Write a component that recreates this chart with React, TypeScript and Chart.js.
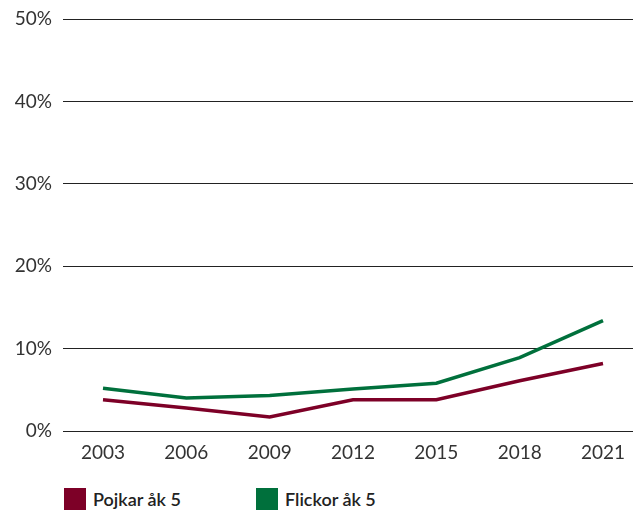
import React, { useEffect, useRef } from "react";
import { Chart, registerables } from "chart.js";

Chart.register(...registerables);

const years = [2003, 2006, 2009, 2012, 2015, 2018, 2021];
const pojkar = [3.8, 2.8, 1.7, 3.8, 3.8, 6.1, 8.2];
const flickor = [5.2, 4.0, 4.3, 5.1, 5.8, 8.9, 13.4];
const yTicks = [0, 10, 20, 30, 40, 50];
const seriesNames = ["Pojkar åk 5", "Flickor åk 5"];
const seriesColors = ["#7d0027", "#00703c"];

export default function App() {
  const ref = useRef<HTMLCanvasElement>(null);
  useEffect(() => {
    document.body.style.margin = "0";
    const ctx = ref.current!;
    const chart = new Chart(ctx, {
      type: "line",
      data: {
        datasets: [
          {
            label: seriesNames[0],
            data: years.map((y, i) => ({ x: y, y: pojkar[i] })),
            borderColor: seriesColors[0],
            backgroundColor: seriesColors[0],
            borderWidth: 3.5,
            pointRadius: 0,
            tension: 0,
          },
          {
            label: seriesNames[1],
            data: years.map((y, i) => ({ x: y, y: flickor[i] })),
            borderColor: seriesColors[1],
            backgroundColor: seriesColors[1],
            borderWidth: 3.5,
            pointRadius: 0,
            tension: 0,
          },
        ],
      },
      options: {
        animation: false,
        responsive: false,
        maintainAspectRatio: false,
        layout: { padding: { top: 19, right: 2, bottom: 19, left: 0 } },
        plugins: { legend: { display: false }, tooltip: { enabled: false } },
        scales: {
          x: {
            type: "linear",
            min: 2001.56,
            max: 2022.08,
            afterBuildTicks: (scale: any) => {
              scale.ticks = years.map((v) => ({ value: v }));
            },
            afterFit: (scale: any) => {
              scale.height = 30;
            },
            grid: { display: false },
            border: { display: false },
            ticks: {
              autoSkip: false,
              maxRotation: 0,
              padding: 2,
              color: "#333",
              font: { family: "Lato", size: 19 },
              callback: (v: any) => String(v),
            },
          },
          y: {
            min: 0,
            max: 50,
            afterBuildTicks: (scale: any) => {
              scale.ticks = yTicks.map((v) => ({ value: v }));
            },
            afterFit: (scale: any) => {
              scale.width = 63;
            },
            grid: { color: "#222", lineWidth: 1, drawTicks: false },
            border: { display: false },
            ticks: {
              padding: 11,
              color: "#333",
              font: { family: "Lato", size: 19, lineHeight: 0.8 },
              callback: (v: any) => v + "%",
            },
          },
        },
      },
    });
    return () => chart.destroy();
  }, []);

  const legendItem = (i: number, left: number) => (
    <div
      key={i}
      style={{
        position: "absolute",
        left,
        top: 488,
        display: "flex",
        alignItems: "center",
        height: 22,
      }}
    >
      <div style={{ width: 22, height: 22, background: seriesColors[i] }} />
      <span
        style={{
          marginLeft: 7,
          fontFamily: "Lato",
          fontWeight: 600,
          fontSize: 18,
          color: "#222",
        }}
      >
        {seriesNames[i]}
      </span>
    </div>
  );

  return (
    <div style={{ position: "relative", width: 635, height: 511 }}>
      <canvas ref={ref} width={635} height={480} style={{ display: "block" }} />
      {legendItem(0, 64)}
      {legendItem(1, 256)}
    </div>
  );
}
